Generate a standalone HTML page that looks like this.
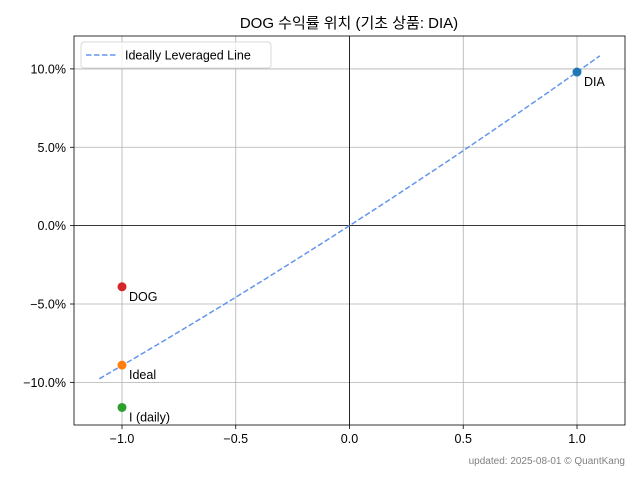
<!DOCTYPE html>
<html><head><meta charset="utf-8"><style>
body{margin:0;background:#fff;}
svg text{font-family:"Liberation Sans","Noto Sans CJK KR",sans-serif;}
</style></head><body>
<svg id="c" width="640" height="480" xmlns="http://www.w3.org/2000/svg"></svg>
<script>
const xTicks=[-1.0,-0.5,0.0,0.5,1.0];
const xTickLabels=["−1.0","−0.5","0.0","0.5","1.0"];
const yTicks=[-10,-5,0,5,10];
const yTickLabels=["−10.0%","−5.0%","0.0%","5.0%","10.0%"];
const pointNames=["DIA","DOG","Ideal","I (daily)"];
const pointX=[1,-1,-1,-1];
const pointY=[9.8,-3.9,-8.9,-11.6];
const pointColors=["#1f77b4","#d62728","#ff7f0e","#2ca02c"];
const baseReturn=9.8;
const lineRange=[-1.1,1.1];

const L=74,R=625,T=36,B=425;
const xMin=-1.211,xMax=1.211,yMin=-12.72,yMax=12.1;
const X=v=>L+(v-xMin)/(xMax-xMin)*(R-L);
const Y=v=>B-(v-yMin)/(yMax-yMin)*(B-T);
const svg=document.getElementById('c');
const NS="http://www.w3.org/2000/svg";
function mk(tag,attrs,parent){const e=document.createElementNS(NS,tag);for(const k in attrs)e.setAttribute(k,attrs[k]);(parent||svg).appendChild(e);return e;}

const title=mk('text',{x:349,y:28,'text-anchor':'middle','font-size':15,fill:'#000'});
title.textContent="DOG 수익률 위치 (기초 상품: DIA)";



xTicks.forEach((v,i)=>{
 const g=mk('line',{x1:X(v),x2:X(v),y1:T,y2:B,stroke:'#b0b0b0','stroke-width':0.8});
 
 
 mk('line',{x1:X(v),x2:X(v),y1:B,y2:B+4,stroke:'#000','stroke-width':0.8});
 const t=mk('text',{x:X(v),y:B+18,'text-anchor':'middle','font-size':12.5,fill:'#000'});
 t.textContent=xTickLabels[i];
 
 
});
yTicks.forEach((v,i)=>{
 const g=mk('line',{x1:L,x2:R,y1:Y(v),y2:Y(v),stroke:'#b0b0b0','stroke-width':0.8});
 
 
 mk('line',{x1:L-4,x2:L,y1:Y(v),y2:Y(v),stroke:'#000','stroke-width':0.8});
 const t=mk('text',{x:L-8,y:Y(v)+4.5,'text-anchor':'end','font-size':12.5,fill:'#000'});
 t.textContent=yTickLabels[i];
 
 
});
const zx=mk('line',{x1:X(0),x2:X(0),y1:T,y2:B,stroke:'#000','stroke-width':0.8});


const zy=mk('line',{x1:L,x2:R,y1:Y(0),y2:Y(0),stroke:'#000','stroke-width':0.8});



let d="";
for(let k=0;k<=60;k++){
 const x=lineRange[0]+(lineRange[1]-lineRange[0])*k/60;
 const y=(Math.pow(1+baseReturn/100,x)-1)*100;
 d+=(k?"L":"M")+X(x).toFixed(2)+","+Y(y).toFixed(2);
}
const ln=mk('path',{d:d,fill:'none',stroke:'#6495ed','stroke-width':1.5,'stroke-dasharray':'5.5,2.5'});



pointNames.forEach((n,i)=>{
 const c=mk('circle',{cx:X(pointX[i]),cy:Y(pointY[i]),r:4.5,fill:pointColors[i]});
 
 
 const t=mk('text',{x:X(pointX[i])+7,y:Y(pointY[i])+14,'font-size':12.5,fill:'#000'});
 t.textContent=n;
 
 
});

const fr=mk('rect',{x:L,y:T,width:R-L,height:B-T,fill:'none',stroke:'#000','stroke-width':0.8});



const lg=mk('g',{});


mk('rect',{x:81,y:42,width:190,height:26,rx:3,fill:'#fff','fill-opacity':0.8,stroke:'#d9d9d9'},lg);
mk('line',{x1:86,x2:116,y1:55,y2:55,stroke:'#6495ed','stroke-width':1.5,'stroke-dasharray':'5.5,2.5'},lg);
const lt=mk('text',{x:125,y:59.5,'font-size':12.5,fill:'#000'},lg);
lt.textContent="Ideally Leveraged Line";



const ft=mk('text',{x:625,y:464,'text-anchor':'end','font-size':10,fill:'#808080'});
ft.textContent="updated: 2025-08-01 © QuantKang";


</script>
</body></html>
